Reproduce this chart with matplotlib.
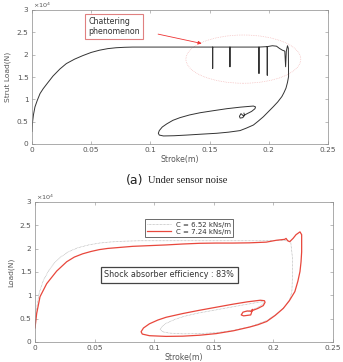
import matplotlib
matplotlib.use("Agg")
import matplotlib.pyplot as plt
from matplotlib.patches import Ellipse

# ---------------- data (load in units of 1e4 N) ----------------
# Top panel: strut load vs stroke under sensor noise (with chattering spikes)
noise_stroke = [0.0, 0.0005, 0.0012, 0.0025, 0.0045, 0.0068, 0.0095, 0.0124, 0.0177, 0.0236,
                0.029, 0.036, 0.043, 0.050, 0.057, 0.064, 0.071, 0.078, 0.085, 0.10,
                0.1526, 0.1526, 0.1526, 0.1672, 0.1672, 0.1672, 0.1917, 0.1917, 0.1917,
                0.1987, 0.1987, 0.1987, 0.203, 0.2065, 0.209, 0.2115, 0.2135, 0.2142, 0.2148,
                0.2158, 0.2165, 0.2167, 0.2158, 0.2145, 0.2128, 0.211, 0.2075, 0.2038, 0.1995,
                0.1954, 0.191, 0.187, 0.181, 0.1757, 0.166, 0.156, 0.143, 0.1307, 0.120,
                0.111, 0.1075, 0.1067, 0.1075, 0.110, 0.1138, 0.119, 0.125, 0.133, 0.142,
                0.153, 0.1644, 0.176, 0.187, 0.1888, 0.1883, 0.1855, 0.181, 0.1785, 0.1765,
                0.1752, 0.1758, 0.178, 0.1795, 0.1790]
noise_load = [0.28, 0.50, 0.65, 0.83, 0.98, 1.13, 1.24, 1.34, 1.52, 1.68,
              1.80, 1.90, 1.98, 2.05, 2.10, 2.135, 2.155, 2.165, 2.17, 2.17,
              2.17, 1.69, 2.17, 2.17, 1.73, 2.17, 2.17, 1.58, 2.17,
              2.18, 1.54, 2.18, 2.20, 2.19, 2.14, 2.10, 2.08, 1.73, 2.08,
              2.20, 2.14, 1.51, 1.38, 1.25, 1.15, 1.06, 0.94, 0.835, 0.72,
              0.61, 0.51, 0.425, 0.355, 0.30, 0.265, 0.24, 0.22, 0.20, 0.185,
              0.18, 0.20, 0.24, 0.30, 0.38, 0.45, 0.53, 0.59, 0.65, 0.70,
              0.745, 0.79, 0.825, 0.85, 0.83, 0.79, 0.73, 0.67, 0.63, 0.68,
              0.62, 0.58, 0.59, 0.64, 0.69]

# Bottom panel: two damping coefficients
c652_stroke = [0.0, 0.0012, 0.0035, 0.007, 0.0115, 0.0165, 0.022, 0.0285, 0.036, 0.045,
               0.054, 0.064, 0.075, 0.088, 0.10, 0.13, 0.16, 0.19, 0.205, 0.211,
               0.2145, 0.216, 0.216, 0.2155, 0.2135, 0.2083, 0.2015, 0.1944, 0.181, 0.1664,
               0.152, 0.138, 0.124, 0.113, 0.107, 0.105, 0.1065, 0.110, 0.117, 0.125,
               0.137, 0.150, 0.163, 0.176, 0.186, 0.191, 0.192, 0.189, 0.185, 0.180, 0.177]
c652_load = [0.30, 0.70, 1.05, 1.32, 1.53, 1.70, 1.83, 1.94, 2.02, 2.08,
             2.12, 2.145, 2.16, 2.17, 2.17, 2.17, 2.17, 2.17, 2.18, 2.17,
             2.15, 1.80, 1.40, 1.08, 0.89, 0.73, 0.58, 0.46, 0.33, 0.25,
             0.20, 0.18, 0.175, 0.19, 0.22, 0.27, 0.33, 0.40, 0.48, 0.55,
             0.62, 0.68, 0.74, 0.80, 0.845, 0.865, 0.83, 0.77, 0.72, 0.67, 0.645]

c724_stroke = [0.0, 0.0014, 0.0042, 0.0098, 0.0182, 0.0266, 0.033, 0.040, 0.047, 0.054,
               0.061, 0.068, 0.075, 0.082, 0.096, 0.11, 0.124, 0.138, 0.152, 0.166,
               0.180, 0.194, 0.2025, 0.2095, 0.2106, 0.212, 0.2137, 0.2165, 0.219, 0.2223,
               0.2237, 0.2237, 0.2232, 0.2223, 0.2205, 0.218, 0.2135, 0.2083, 0.2015, 0.1944,
               0.187, 0.180, 0.1664, 0.152, 0.138, 0.124, 0.110, 0.096, 0.090, 0.089,
               0.091, 0.096, 0.103, 0.110, 0.124, 0.138, 0.152, 0.166, 0.178, 0.189,
               0.1925, 0.193, 0.1915, 0.187, 0.183, 0.1815, 0.1825, 0.181, 0.175, 0.173,
               0.1745, 0.178, 0.181]
c724_load = [0.30, 0.61, 0.97, 1.25, 1.52, 1.72, 1.82, 1.89, 1.94, 1.98,
             2.005, 2.02, 2.035, 2.05, 2.065, 2.08, 2.10, 2.115, 2.12, 2.12,
             2.125, 2.14, 2.18, 2.20, 2.22, 2.17, 2.15, 2.22, 2.30, 2.36,
             2.30, 1.93, 1.72, 1.51, 1.30, 1.08, 0.89, 0.72, 0.57, 0.44,
             0.37, 0.32, 0.24, 0.18, 0.145, 0.125, 0.12, 0.135, 0.17, 0.22,
             0.30, 0.39, 0.47, 0.53, 0.61, 0.68, 0.745, 0.81, 0.86, 0.895,
             0.885, 0.85, 0.78, 0.72, 0.68, 0.66, 0.70, 0.58, 0.56, 0.58,
             0.64, 0.665, 0.66]

x_ticks = [0, 0.05, 0.1, 0.15, 0.2, 0.25]
x_ticklabels = ["0", "0.05", "0.1", "0.15", "0.2", "0.25"]
y_ticks = [0, 0.5, 1, 1.5, 2, 2.5, 3]
y_ticklabels = ["0", "0.5", "1", "1.5", "2", "2.5", "3"]
legend_labels = ["C = 6.52 kNs/m", "C = 7.24 kNs/m"]

# ---------------- figure ----------------
plt.rcParams["font.family"] = ["DejaVu Sans"]
fig = plt.figure(figsize=(3.43, 3.62), dpi=100)

spine_col = "#8a8a8a"
tick_col = "#555555"


def style_axes(ax, ylabel):
    ax.set_xlim(0, 0.25)
    ax.set_ylim(0, 3)
    ax.set_xticks(x_ticks)
    ax.set_xticklabels(x_ticklabels)
    ax.set_yticks(y_ticks)
    ax.set_yticklabels(y_ticklabels)
    ax.tick_params(direction="in", length=2, width=0.4, colors=spine_col,
                   labelcolor=tick_col, labelsize=5.3, top=True, right=True, pad=2.5)
    for s in ax.spines.values():
        s.set_color(spine_col)
        s.set_linewidth(0.5)
    ax.set_xlabel("Stroke(m)", fontsize=5.6, color=tick_col, labelpad=1)
    ax.set_ylabel(ylabel, fontsize=5.4, color=tick_col, labelpad=4)
    ax.text(0.005, 1.0, r"$\times10^4$", transform=ax.transAxes, fontsize=4.6,
            color=tick_col, ha="left", va="bottom")


# top panel
ax1 = fig.add_axes([32 / 343, 1 - 144 / 362, 296 / 343, 134 / 362])
ax1.plot(noise_stroke, noise_load, color="#333333", lw=0.7)
ax1.add_patch(Ellipse((0.1785, 1.90), 0.097, 1.08, fill=False, edgecolor="#f2b0b0",
                      linestyle=(0, (1, 1.5)), lw=0.5))
ax1.text(0.0475, 2.63, "Chattering\nphenomenon", fontsize=5.7, color="#333333",
         ha="left", va="center", linespacing=1.1,
         bbox=dict(boxstyle="square,pad=0.4", fc="white", ec="#e08080", lw=0.8))
ax1.annotate("", xy=(0.1433, 2.25), xytext=(0.1065, 2.46),
             arrowprops=dict(arrowstyle="-|>", color="#ee3333", lw=0.6,
                             mutation_scale=5, shrinkA=0, shrinkB=0))
style_axes(ax1, "Strut Load(N)")

# bottom panel
ax2 = fig.add_axes([35 / 343, 1 - 342 / 362, 298 / 343, 140 / 362])
ax2.plot(c652_stroke, c652_load, color="#a8a8a8", lw=0.5, linestyle=(0, (1, 1)),
         label=legend_labels[0])
ax2.plot(c724_stroke, c724_load, color="#e8473c", lw=0.9, label=legend_labels[1])
leg = ax2.legend(loc="upper left", bbox_to_anchor=(0.369, 0.875), fontsize=5.0,
                 frameon=True, fancybox=False, edgecolor="#444444", handlelength=3.4,
                 handletextpad=0.8, borderpad=0.3, labelspacing=0.15, borderaxespad=0)
leg.get_frame().set_linewidth(0.7)
for t in leg.get_texts():
    t.set_color("#333333")
ax2.text(0.1125, 1.436, "Shock absorber efficiency : 83%", fontsize=5.8, color="#333333",
         ha="center", va="center",
         bbox=dict(boxstyle="square,pad=0.45", fc="white", ec="#444444", lw=0.9))
style_axes(ax2, "Load(N)")

# caption
fig.text(0.392, 1 - 180 / 362, "(a)", fontsize=9, ha="center", va="center", color="#222222")
fig.text(0.432, 1 - 180.5 / 362, "Under sensor noise", fontsize=7.5, ha="left", va="center",
         family=["Liberation Serif"], color="#222222")

fig.savefig("out.png", dpi=100)
